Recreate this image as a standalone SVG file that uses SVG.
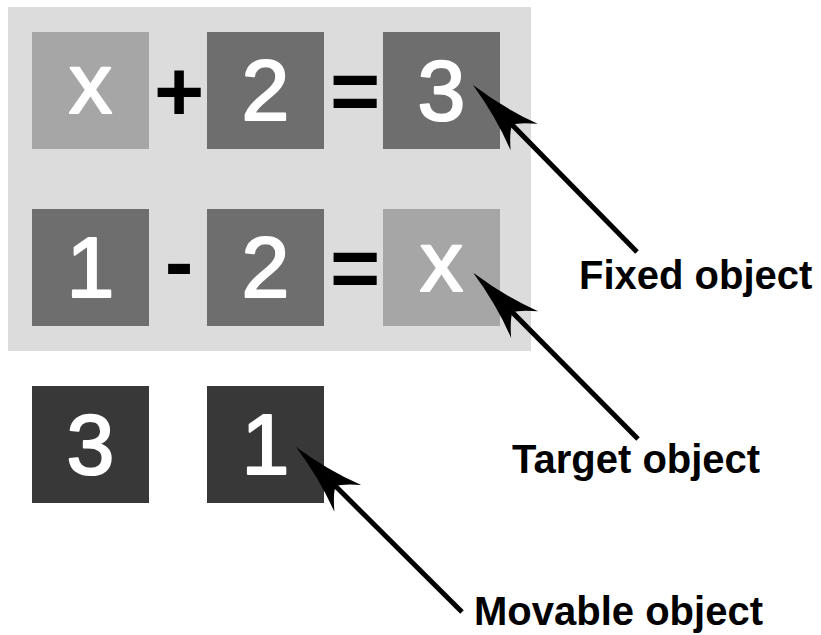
<svg xmlns="http://www.w3.org/2000/svg" width="821" height="635" viewBox="0 0 821 635">
<style>
.light{fill:#a6a6a6}
.mid{fill:#6e6e6e}
.dark{fill:#383838}
.num{font-family:"Liberation Sans",Arial,sans-serif;font-size:86px;fill:#ffffff;stroke:#ffffff;stroke-width:2.2;stroke-linejoin:round;text-anchor:middle}
.op{font-family:"Liberation Sans",Arial,sans-serif;font-size:86px;font-weight:bold;fill:#000000;text-anchor:middle}
.lbl{font-family:"Liberation Sans",Arial,sans-serif;font-size:40px;font-weight:bold;fill:#000000}
.conn{stroke:#000000;stroke-width:5;fill:none;marker-start:url(#head)}
</style>
<defs>
<marker id="head" markerUnits="userSpaceOnUse" markerWidth="80" markerHeight="40" refX="40" refY="20" orient="auto" viewBox="0 0 80 40" overflow="visible">
<path d="M0,20 Q40,14 73,1 Q58,14 56,20 Q58,26 73,39 Q40,26 0,20 Z" fill="#000000"/>
</marker>
</defs>
<rect id="panel" x="8" y="7" width="523" height="344" fill="#dcdcdc"/>
<g id="op-plus"><text class="op" x="179" y="121">+</text></g>
<g id="op-eq1"><text class="op" x="355" y="120">=</text></g>
<g id="op-minus"><text class="op" x="179" y="291">-</text></g>
<g id="op-eq2"><text class="op" x="355" y="297">=</text></g>
<g id="r1-x"><rect class="light" x="32" y="32" width="117" height="117"/><text class="num" x="90.5" y="113">x</text></g>
<g id="r1-2"><rect class="mid" x="207" y="32" width="117" height="117"/><text class="num" x="265.5" y="120">2</text></g>
<g id="r1-3"><rect class="mid" x="383" y="32" width="117" height="117"/><text class="num" x="441.5" y="120">3</text></g>
<g id="r2-1"><rect class="mid" x="32" y="209" width="117" height="117"/><text class="num" x="90.5" y="297">1</text></g>
<g id="r2-2"><rect class="mid" x="207" y="209" width="117" height="117"/><text class="num" x="265.5" y="297">2</text></g>
<g id="r2-x"><rect class="light" x="383" y="209" width="117" height="117"/><text class="num" x="441.5" y="291">x</text></g>
<g id="m-3"><rect class="dark" x="32" y="386" width="117" height="117"/><text class="num" x="90.5" y="474">3</text></g>
<g id="m-1"><rect class="dark" x="207" y="386" width="117" height="117"/><text class="num" x="265.5" y="474">1</text></g>
<g id="connectors">
<line class="conn" x1="501" y1="113.5" x2="637" y2="252"/>
<line class="conn" x1="501.4" y1="301.2" x2="638" y2="439"/>
<line class="conn" x1="324.4" y1="475.1" x2="462" y2="612"/>
</g>
<g id="label-fixed"><text class="lbl" x="579" y="288.5">Fixed object</text></g>
<g id="label-target"><text class="lbl" x="512" y="472.5">Target object</text></g>
<g id="label-movable"><text class="lbl" x="474" y="624.5">Movable object</text></g>
</svg>
